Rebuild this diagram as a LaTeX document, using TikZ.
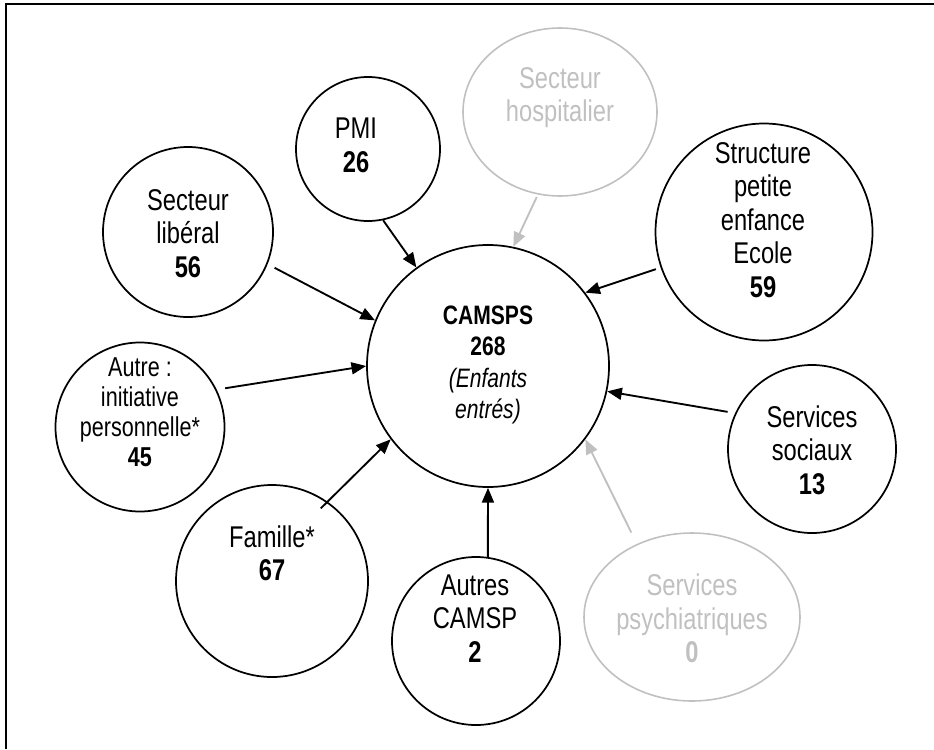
\documentclass[tikz,border=0pt]{standalone}
\usepackage{fontspec}
\setmainfont{Liberation Sans}[FakeStretch=0.79]
\usetikzlibrary{arrows.meta,shapes.geometric}
\definecolor{lgray}{RGB}{192,192,192}
\begin{document}
\begin{tikzpicture}[x=0.75pt,y=-0.75pt,
  bub/.style={circle,draw=black,line width=1.3pt,inner sep=0pt},
  gbub/.style={ellipse,draw=lgray,line width=1.2pt,inner sep=0pt},
  txt/.style={align=center,inner sep=0pt,font=\fontsize{22.5}{25.1}\selectfont},
  gtxt/.style={txt,text=lgray},
  arr/.style={-{Triangle[length=11pt,width=9pt]},line width=1.4pt},
  framel/.style={line width=1.6pt}]
\useasboundingbox (0,0) rectangle (934,749);
\coordinate (fb) at (6,749);
\coordinate (fc) at (6,3.7);
\coordinate (fr) at (934,3.7);
\draw[framel] (fb) -- (fc) -- (fr);

\node[bub,minimum size=181.5pt] (c) at (488,366) {};
\node[txt,font=\fontsize{20}{23.5}\selectfont] (ct) at (488,365) {\textbf{CAMSPS}\\\textbf{268}\\\textit{(Enfants}\\\textit{entrés)}};

\node[bub,minimum size=108pt] (pmi) at (368,149) {};
\node[txt] (pmit) at (356,145.5) {PMI\\\textbf{26}};

\node[gbub,minimum width=145.5pt,minimum height=126pt] (hosp) at (560,112) {};
\node[gtxt] (hospt) at (560,97.5) {Secteur\\hospitalier};

\node[bub,minimum size=127.5pt] (lib) at (188,232) {};
\node[txt] (libt) at (188,233.5) {Secteur\\libéral\\\textbf{56}};

\node[bub,minimum size=162.75pt] (struct) at (764,232) {};
\node[txt] (structt) at (763,220) {Structure\\petite\\enfance\\Ecole\\\textbf{59}};

\node[bub,minimum size=126.75pt] (autre) at (140,427) {};
\node[txt,font=\fontsize{20.5}{22.5}\selectfont] (autret) at (140,412.5) {Autre :\\initiative\\personnelle*\\\textbf{45}};

\node[bub,minimum size=126pt] (soc) at (812,449) {};
\node[txt] (soct) at (812,450) {Services\\sociaux\\\textbf{13}};

\node[bub,minimum size=144pt] (fam) at (272,581) {};
\node[txt] (famt) at (272,553.5) {Famille*\\\textbf{67}};

\node[bub,minimum size=126pt] (camsp) at (476,641) {};
\node[txt] (camspt) at (475,618.5) {Autres\\CAMSP\\\textbf{2}};

\node[gbub,minimum width=162pt,minimum height=126pt] (psy) at (692,617) {};
\node[gtxt] (psyt) at (692,618.5) {Services\\psychiatriques\\\textbf{0}};

\draw[arr] (pmi.-78) -- (c.126.4);
\draw[arr,lgray,shorten <=2pt] (hosp.-105.7) -- (c.78.5);
\draw[arr,shorten <=5.9pt] (lib.-22.2) -- (c.158);
\draw[arr,shorten <=6.4pt] (autre.26.5) -- (c.180);
\draw[arr,shorten <=-7.2pt] (fam.55.1) -- (c.-143);
\draw[arr] (camsp.82) -- (c.-90);
\draw[arr,shorten <=3.7pt] (struct.-161.4) -- (c.37);
\draw[arr,shorten <=5.7pt] (soc.155.6) -- (c.-12);
\draw[arr,lgray,shorten <=9.5pt] (psy.127.1) -- (c.-37.3);
\end{tikzpicture}
\end{document}
